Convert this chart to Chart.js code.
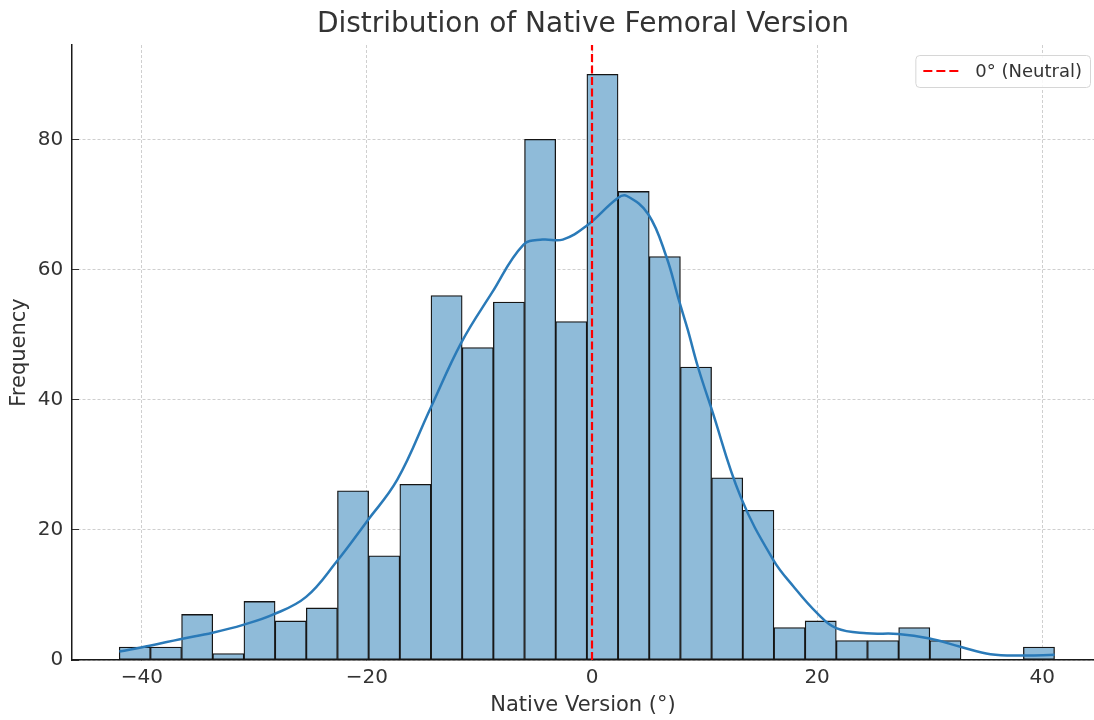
<!DOCTYPE html>
<html>
<head>
<meta charset="utf-8">
<title>Distribution of Native Femoral Version</title>
<script src="https://cdn.jsdelivr.net/npm/chart.js@4.4.1/dist/chart.umd.min.js"></script>
<style>
  html, body { margin: 0; padding: 0; background: #fff; overflow: hidden; }
  #wrap { width: 1094px; height: 720px; }
</style>
</head>
<body>
<div id="wrap"><canvas id="versionChart" width="1094" height="720"></canvas></div>
<script>
// histogram: centre of each bin (degrees) and its count
const binCenters = [-40.62, -37.85, -35.08, -32.31, -29.54, -26.77, -24.00, -21.23, -18.46, -15.69,
                    -12.92, -10.15, -7.38, -4.61, -1.84, 0.93, 3.70, 6.47, 9.24, 12.01,
                    14.78, 17.55, 20.32, 23.09, 25.86, 28.63, 31.40, 34.17, 36.94, 39.71];
const binCounts = [2, 2, 7, 1, 9, 6, 8, 26, 16, 27,
                   56, 48, 55, 80, 52, 90, 72, 62, 45, 28,
                   23, 5, 6, 3, 3, 5, 3, 0, 0, 2];

// kde curve
const kdeX = [-42.0, -39.3, -36.6, -33.7, -31.0, -28.3, -25.4, -22.7, -20.0, -17.3,
              -14.4, -11.6, -8.9, -6.1, -4.4, -2.6, -0.5, 2.3, 3.1, 5.0,
              6.6, 7.7, 8.5, 9.4, 10.6, 13.2, 16.1, 17.9, 20.0, 21.7,
              24.4, 27.2, 30.0, 32.8, 35.4, 38.3, 41.1];
const kdeY = [1.3, 2.2, 3.2, 4.2, 5.4, 7.0, 9.7, 15.1, 21.3, 27.7,
              38.5, 48.8, 56.4, 63.8, 64.6, 64.6, 66.7, 71.0, 71.3, 68.5,
              62.0, 55.4, 50.8, 45.1, 38.7, 25.1, 15.4, 11.3, 7.2, 4.9,
              4.1, 4.0, 3.3, 2.0, 0.9, 0.7, 0.8];

const neutralAngle = 0;
const xTicks = [-40, -20, 0, 20, 40];
const yTicks = [0, 20, 40, 60, 80];
const xRange = [-46.2, 44.6];
const yRange = [0, 94.5];

const textColor = "#333333";
const fontFamily = "'DejaVu Sans', sans-serif";

const histData = binCenters.map((x, i) => ({ x: x, y: binCounts[i] }));
const kdeData = kdeX.map((x, i) => ({ x: x, y: kdeY[i] }));
const neutralData = [{ x: neutralAngle, y: yRange[0] }, { x: neutralAngle, y: yRange[1] }];

// legend box drawn inside the plot, top right
const neutralLegend = {
    id: "neutralLegend",
    afterDatasetsDraw(chart) {
        const ds = chart.data.datasets[0];
        const ctx = chart.ctx;
        const area = chart.chartArea;
        ctx.save();
        ctx.font = "18px " + fontFamily;
        const textW = ctx.measureText(ds.label).width;
        const w = 8 + 36 + 16 + textW + 8;
        const h = 32;
        const left = area.right - 4 - w;
        const top = area.top + 10;

        ctx.beginPath();
        ctx.roundRect(left + 0.5, top + 0.5, w, h, 4);
        ctx.fillStyle = "rgba(255,255,255,0.85)";
        ctx.fill();
        ctx.strokeStyle = "#d6d6d6";
        ctx.lineWidth = 1;
        ctx.stroke();

        const midY = top + h / 2;
        ctx.beginPath();
        ctx.setLineDash([9, 4]);
        ctx.moveTo(left + 8, midY);
        ctx.lineTo(left + 44, midY);
        ctx.strokeStyle = ds.borderColor;
        ctx.lineWidth = ds.borderWidth;
        ctx.stroke();
        ctx.setLineDash([]);

        ctx.fillStyle = textColor;
        ctx.textBaseline = "middle";
        ctx.textAlign = "left";
        ctx.fillText(ds.label, left + 60, midY + 1);
        ctx.restore();
    }
};

const ctx = document.getElementById("versionChart").getContext("2d");

new Chart(ctx, {
    type: "bar",
    data: {
        datasets: [
            {
                type: "line",
                label: "0° (Neutral)",
                data: neutralData,
                borderColor: "#ff0000",
                borderWidth: 2.2,
                borderDash: [8, 3.5],
                pointRadius: 0,
                order: 0
            },
            {
                type: "line",
                label: "KDE",
                data: kdeData,
                borderColor: "#2a7ab8",
                borderWidth: 2.5,
                pointRadius: 0,
                tension: 0.4,
                order: 1
            },
            {
                type: "bar",
                label: "Count",
                data: histData,
                backgroundColor: "#8fbbd9",
                borderColor: "#151515",
                borderWidth: 1.3,
                borderSkipped: false,
                barPercentage: 1,
                categoryPercentage: 1,
                order: 2
            }
        ]
    },
    options: {
        responsive: false,
        animation: false,
        events: [],
        layout: { padding: 0 },
        plugins: {
            legend: { display: false },
            tooltip: { enabled: false },
            title: {
                display: true,
                text: "Distribution of Native Femoral Version",
                fullSize: false,
                color: textColor,
                font: { family: fontFamily, size: 28, weight: "normal" },
                padding: { top: 8, bottom: 3.4 }
            }
        },
        scales: {
            x: {
                type: "linear",
                min: xRange[0],
                max: xRange[1],
                offset: false,
                afterBuildTicks: scale => { scale.ticks = xTicks.map(v => ({ value: v })); },
                afterFit: scale => { scale.height = 60; },
                grid: {
                    offset: false,
                    color: "#cfcfcf",
                    lineWidth: 1,
                    tickColor: "#333333",
                    tickLength: -7,
                    tickWidth: 1
                },
                border: { display: true, color: "#1a1a1a", width: 1.5, dash: [3, 2] },
                ticks: {
                    color: textColor,
                    font: { family: fontFamily, size: 20 },
                    padding: 13,
                    maxRotation: 0,
                    callback: v => (v < 0 ? "\u2212" + Math.abs(v) : String(v))
                },
                title: {
                    display: true,
                    text: "Native Version (°)",
                    color: textColor,
                    font: { family: fontFamily, size: 21 },
                    padding: { top: 0, bottom: 2 }
                }
            },
            y: {
                type: "linear",
                min: yRange[0],
                max: yRange[1],
                afterBuildTicks: scale => { scale.ticks = yTicks.map(v => ({ value: v })); },
                afterFit: scale => { scale.width = 72; },
                grid: {
                    color: "#cfcfcf",
                    lineWidth: 1,
                    tickColor: "#333333",
                    tickLength: -7,
                    tickWidth: 1
                },
                border: { display: true, color: "#1a1a1a", width: 1.5, dash: [3, 2] },
                ticks: {
                    color: textColor,
                    font: { family: fontFamily, size: 20 },
                    padding: 15.7
                },
                title: {
                    display: true,
                    text: "Frequency",
                    color: textColor,
                    font: { family: fontFamily, size: 21 },
                    padding: { top: 7, bottom: 0 }
                }
            }
        }
    },
    plugins: [neutralLegend]
});
</script>
</body>
</html>
